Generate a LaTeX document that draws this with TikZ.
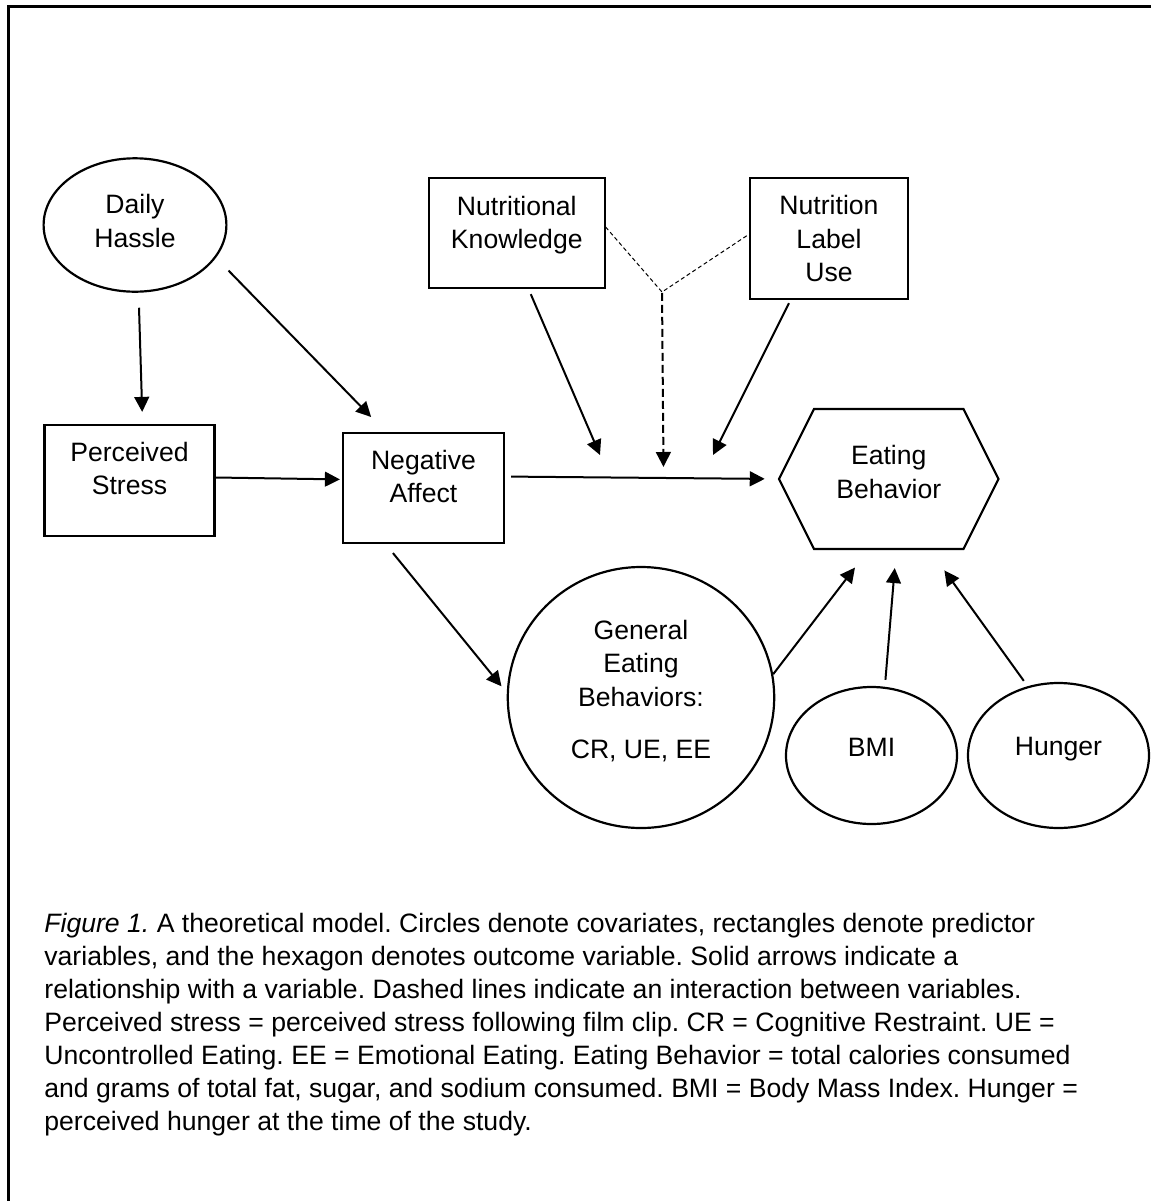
\documentclass[tikz,border=0pt]{standalone}
\usepackage{fontspec}
\setmainfont{Liberation Sans}
\usepackage{tikz}
\usetikzlibrary{arrows.meta, shapes.geometric, shapes.symbols}
\frenchspacing

\begin{document}
\begin{tikzpicture}[x=0.5pt, y=-0.5pt,
    shapeline/.style={draw, line width=1.1pt, inner sep=0pt},
    txt/.style={align=center, inner sep=0pt, font=\fontsize{13.3}{16.7}\selectfont},
    arr/.style={-{Triangle[length=7.5pt, width=7.4pt]}, line width=1pt},
    interact/.style={line width=0.5pt, dash pattern=on 2pt off 1.4pt}]
    \useasboundingbox (0,0) rectangle (1151,1201);
    \draw [line width=1.3pt] (1170,6.7) -- (8.7,6.7) -- (8.7,1220);

    \node [ellipse, shapeline, minimum width=91.4pt, minimum height=66.7pt, label={[txt, yshift=2pt]center:{Daily\\Hassle}}] (hassle) at (135,225) {};
    \node [rectangle, shapeline, minimum width=85pt, minimum height=55.5pt, label={[txt, yshift=6pt]center:{Perceived\\Stress}}] (stress) at (129.5,480.5) {};
    \node [rectangle, shapeline, minimum width=80.5pt, minimum height=55pt, label={[txt, yshift=5.8pt]center:{Negative\\Affect}}] (negaff) at (423.5,488) {};
    \node [rectangle, shapeline, minimum width=87.8pt, minimum height=55pt, label={[txt, yshift=4.2pt]center:{Nutritional\\Knowledge}}] (know) at (516.8,233.3) {};
    \node [rectangle, shapeline, minimum width=79pt, minimum height=60.5pt, label={[txt, yshift=0pt]center:{Nutrition\\Label\\Use}}] (labeluse) at (829,238.5) {};
    \node [signal, signal to=west and east, signal pointer angle=126.87, shapeline, minimum width=109.75pt, minimum height=70pt, label={[txt, yshift=3.6pt]center:{Eating\\Behavior}}] (eat) at (888.75,479) {};
    \node [ellipse, shapeline, minimum width=133.2pt, minimum height=130.5pt, label={[txt, yshift=3.3pt]center:{General\\Eating\\Behaviors:\\[9.5pt]CR, UE, EE}}] (general) at (641,697.5) {};
    \node [ellipse, shapeline, minimum width=85.5pt, minimum height=68.5pt, label={[txt, yshift=4.3pt]center:BMI}] (bmi) at (871.5,755.5) {};
    \node [ellipse, shapeline, minimum width=90.5pt, minimum height=72.5pt, label={[txt, yshift=3pt]center:Hunger}] (hunger) at (1058.5,755.5) {};

    \coordinate (apex) at (662,292);
    \coordinate (kend) at (600,455);
    \coordinate (lend) at (713,455);
    \coordinate (dend) at (663.5,467);

    \draw [arr, shorten <=7.5pt, shorten >=6pt] (hassle.-87) -- (stress.77);
    \draw [arr, shorten <=9pt, shorten >=10.4pt] (hassle.-22) -- (negaff.124);
    \draw [arr, shorten >=1pt] (stress.2) -- (negaff.174);
    \draw [arr, shorten <=3pt, shorten >=6.5pt] (negaff.8) -- (eat.180);
    \draw [arr, shorten <=2.6pt] (know.-78.5) -- (kend);
    \draw [arr, shorten <=1.7pt] (labeluse.-122.5) -- (lend);
    \draw [interact] (know.4) -- (apex) -- (labeluse.177);
    \draw [arr, dash pattern=on 4pt off 2pt, shorten <=0.4pt] (apex) -- (dend);
    \draw [arr, shorten <=5.8pt, shorten >=4.2pt] (negaff.-124) -- (general.178);
    \draw [arr, shorten >=11pt] (general.10) -- (eat.-106.7);
    \draw [arr, shorten <=3.5pt, shorten >=9pt] (bmi.79) -- (eat.-84.5);
    \draw [arr, shorten <=3.3pt, shorten >=12.5pt] (hunger.114) -- (eat.-60);

    \node [anchor=north west, align=left, inner sep=0pt, font=\fontsize{13.3}{16.5}\selectfont] (caption) at (44,913) {\textit{Figure 1.} A theoretical model. Circles denote covariates, rectangles denote predictor\\variables, and the hexagon denotes outcome variable. Solid arrows indicate a\\relationship with a variable. Dashed lines indicate an interaction between variables.\\Perceived stress = perceived stress following film clip. CR = Cognitive Restraint. UE =\\Uncontrolled Eating. EE = Emotional Eating. Eating Behavior = total calories consumed\\and grams of total fat, sugar, and sodium consumed. BMI = Body Mass Index. Hunger =\\perceived hunger at the time of the study.};
\end{tikzpicture}
\end{document}
